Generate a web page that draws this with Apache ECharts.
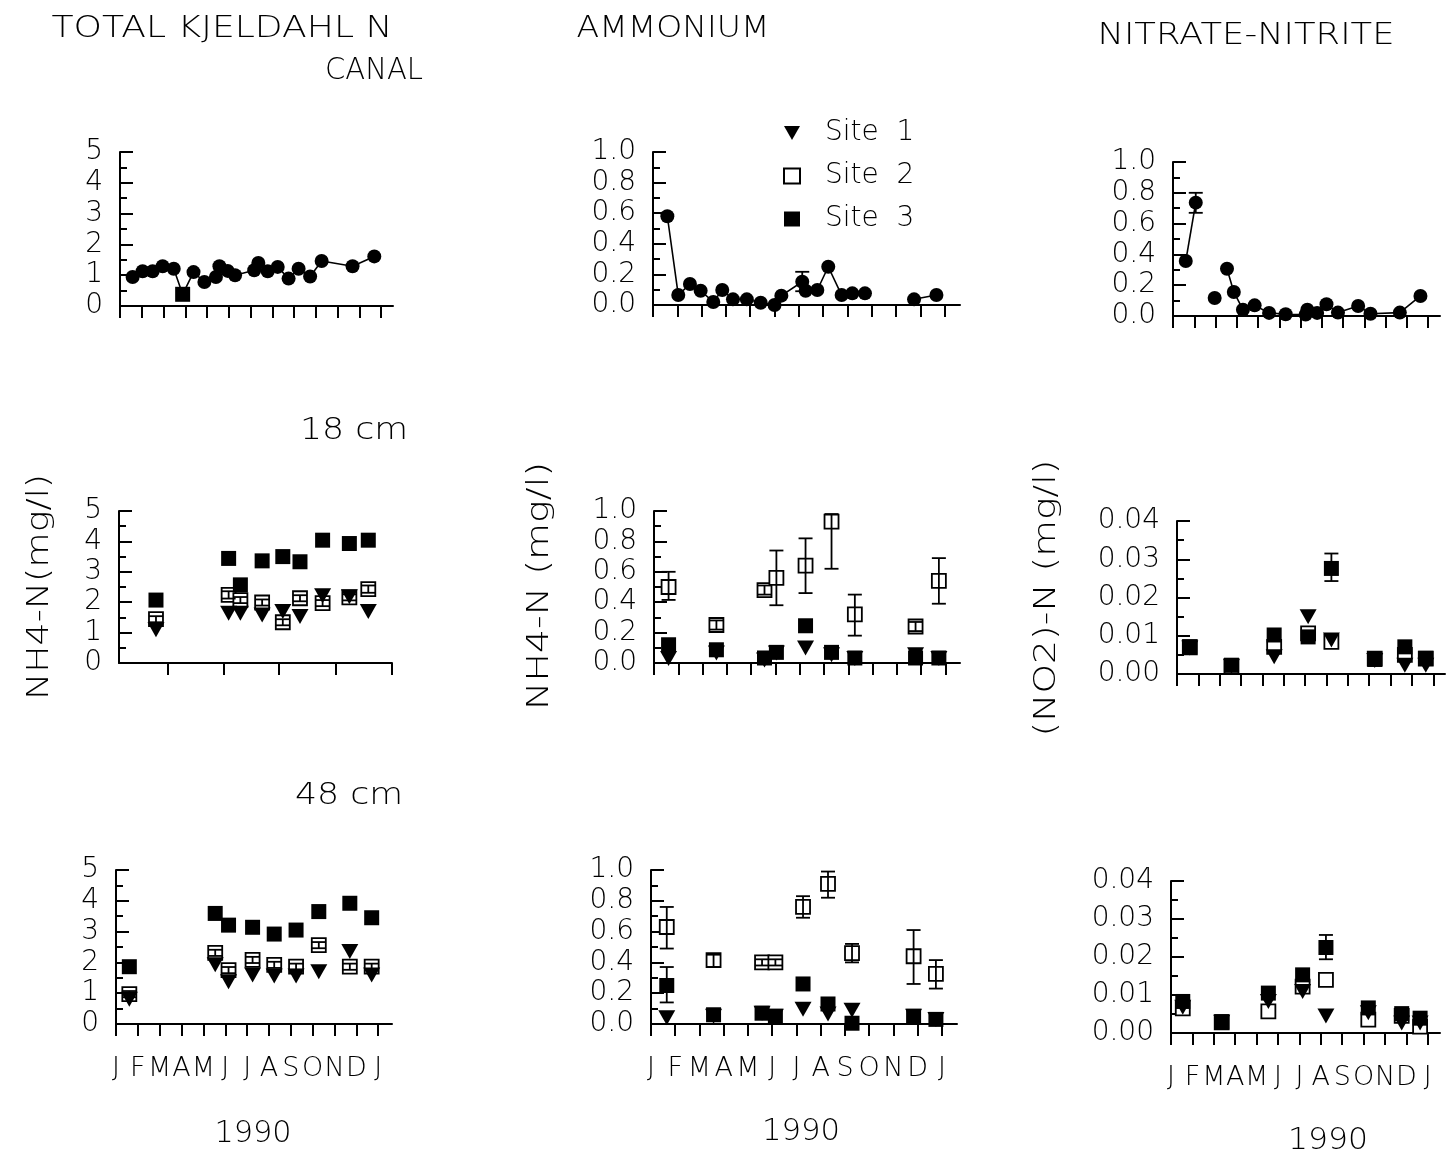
<!DOCTYPE html>
<html>
<head>
<meta charset="utf-8">
<script src="https://cdn.jsdelivr.net/npm/echarts@6/dist/echarts.min.js"></script>
<style>
  html, body { margin: 0; padding: 0; background: #fff; }
  #chart { width: 1454px; height: 1162px; }
</style>
</head>
<body>
<div id="chart"></div>
<script>
// ---- Axis labels and ticks ------------------------------------------------
// x is a month index: 0 = January 1990, 12 = January 1991
const MONTH_LETTERS = ['J', 'F', 'M', 'A', 'M', 'J', 'J', 'A', 'S', 'O', 'N', 'D', 'J'];
const MONTH_TICKS = [0, 1, 2, 3, 4, 5, 6, 7, 8, 9, 10, 11, 12];
const TKN_18CM_TICKS = [2.25, 4.81, 7.35, 9.97, 12.52];

// ---- Canal (surface water) series, mg/l; null = gap in the record ----------
const canalTKN = [
  [0.58, 0.94], [1.04, 1.13], [1.50, 1.13], [1.96, 1.29], [2.47, 1.21], [2.88, 0.38],
  [3.38, 1.10], [3.88, 0.78], [4.41, 0.94], [4.57, 1.29], [4.95, 1.14], [5.29, 1.00],
  [6.17, 1.16], [6.36, 1.40], [6.79, 1.13], [7.25, 1.27], [7.75, 0.89], [8.21, 1.21],
  [8.74, 0.96], [9.27, 1.46], [10.69, 1.29], [11.69, 1.61]
];
const canalTKNSquareIndex = 5;
const canalNH4 = [
  [0.59, 0.58], [1.04, 0.065], [1.52, 0.137], [1.96, 0.093], [2.48, 0.02], [2.85, 0.098],
  [3.29, 0.037], [3.86, 0.037], [4.43, 0.015], [5.00, 0.0], [5.28, 0.061], [6.14, 0.152],
  [6.28, 0.093], [6.76, 0.098], [7.21, 0.25], [7.76, 0.065], [8.20, 0.076], [8.72, 0.076],
  null,
  [10.74, 0.037], [11.66, 0.065]
];
const canalNH4Err = [[6.14, 0.09, 0.217]];
const canalNO3 = [
  [0.60, 0.357], [1.07, 0.736],
  null,
  [1.96, 0.117],
  null,
  [2.54, 0.307], [2.86, 0.156], [3.29, 0.041], [3.84, 0.069], [4.52, 0.02], [5.30, 0.011],
  [6.24, 0.009], [6.32, 0.041], [6.78, 0.02], [7.22, 0.076], [7.76, 0.022], [8.71, 0.065],
  [9.29, 0.015], [10.67, 0.022], [11.64, 0.13]
];
const canalNO3Err = [[1.07, 0.67, 0.80]];

// ---- Pore water, 18 cm ----------------------------------------------------
const dates18TKN = [1.70, 5.04, 5.58, 6.58, 7.53, 8.32, 9.36, 10.59, 11.46];
const site1_18TKN = [1.09, 1.64, 1.64, 1.58, 1.69, 1.53, 2.21, 2.18, 1.69];
const site2_18TKN = [1.44, 2.24, 2.07, 1.99, 1.34, 2.13, 1.97, 2.16, 2.43];
const site3_18TKN = [2.07, 3.44, 2.57, 3.36, 3.50, 3.33, 4.04, 3.93, 4.04];
const site2Err_18TKN = [[1.34, 1.54], [2.12, 2.36], [1.97, 2.17], [1.89, 2.09], [1.24, 1.44], [2.03, 2.23], [1.87, 2.07], [2.06, 2.26], [2.31, 2.55]];

const dates18NH4 = [0.60, 2.57, 4.55, 5.04, 6.24, 7.31, 8.27, 10.77, 11.73];
const site1_18NH4 = [0.03, 0.066, 0.02, 0.066, 0.098, 0.055, 0.03, 0.055, 0.03];
const site2_18NH4 = [0.50, 0.25, 0.48, 0.56, 0.64, 0.93, 0.32, 0.24, 0.54];
const site3_18NH4 = [0.12, 0.087, 0.033, 0.07, 0.245, 0.07, 0.033, 0.033, 0.033];
const site2Err_18NH4 = [[0.415, 0.60], [0.22, 0.28], [0.45, 0.51], [0.38, 0.74], [0.46, 0.82], [0.62, 0.98], [0.18, 0.45], [0.21, 0.27], [0.39, 0.69]];

const dates18NO2 = [0.60, 2.55, 4.55, 6.14, 7.23, 9.26, 10.67, 11.65];
const site1_18NO2 = [0.0068, 0.0020, 0.0045, 0.0150, 0.0089, 0.0035, 0.0023, 0.0023];
const site2_18NO2 = [0.0070, 0.0020, 0.0071, 0.0106, 0.0084, 0.0040, 0.0050, 0.0040];
const site3_18NO2 = [0.0071, 0.0023, 0.0102, 0.0097, 0.0276, 0.0038, 0.0071, 0.0041];
const site3Err_18NO2 = [[7.23, 0.0243, 0.0315]];

// ---- Pore water, 48 cm ----------------------------------------------------
const dates48TKN = [0.61, 4.54, 5.15, 6.25, 7.24, 8.24, 9.28, 10.70, 11.70];
const site1_48TKN = [0.80, 1.92, 1.37, 1.59, 1.56, 1.56, 1.70, 2.35, 1.59];
const site2_48TKN = [0.97, 2.31, 1.75, 2.08, 1.92, 1.86, 2.56, 1.86, 1.86];
const site3_48TKN = [1.86, 3.59, 3.21, 3.14, 2.92, 3.05, 3.65, 3.92, 3.45];
const site2Err_48TKN = [[0.87, 1.07], [2.21, 2.41], [1.65, 1.85], [1.98, 2.18], [1.82, 2.02], [1.76, 1.96], [2.46, 2.66], [1.76, 1.96], [1.76, 1.96]];

const dates48NH4 = [0.65, 2.58, 4.58, 5.13, 6.27, 7.30, 8.29, 10.83, 11.75];
const site1_48NH4 = [0.04, 0.05, 0.07, 0.05, 0.095, 0.065, 0.09, 0.05, 0.03];
const site2_48NH4 = [0.63, 0.415, 0.40, 0.40, 0.76, 0.91, 0.46, 0.44, 0.325];
const site3_48NH4 = [0.25, 0.06, 0.07, 0.05, 0.26, 0.13, 0.005, 0.05, 0.03];
const site2Err_48NH4 = [[0.49, 0.76], [0.37, 0.45], [0.38, 0.42], [0.38, 0.42], [0.69, 0.83], [0.82, 0.99], [0.40, 0.52], [0.26, 0.61], [0.23, 0.415]];
const site3Err_48NH4 = [[0.65, 0.14, 0.37]];

const dates48NO2 = [0.55, 2.37, 4.55, 6.15, 7.24, 9.22, 10.78, 11.64];
const site1_48NO2 = [0.0068, 0.0028, 0.0083, 0.0109, 0.0045, 0.0053, 0.0026, 0.0026];
const site2_48NO2 = [0.0065, 0.0028, 0.0057, 0.0122, 0.0140, 0.0035, 0.0045, 0.0017];
const site3_48NO2 = [0.0083, 0.0030, 0.0105, 0.0153, 0.0225, 0.0066, 0.0051, 0.0039];
const site3Err_48NO2 = [[7.24, 0.0194, 0.0258]];

// ---- Styling / layout -------------------------------------------------------
const FONT = 'DejaVu Sans';
const WEIGHT = 200;
const TRIANGLE = 'path://M0,0L16,0L8,14Z';

// panel frames: left/top/width/height in px, x extent in months, y scale
const PANELS = [
  { left: 120,  top: 152, width: 273, height: 154, xMax: 12.55, yMax: 5,    yStep: 1,    dec: 0 },
  { left: 653,  top: 152, width: 307, height: 153, xMax: 12.63, yMax: 1,    yStep: 0.2,  dec: 1 },
  { left: 1173, top: 162, width: 267, height: 154, xMax: 12.56, yMax: 1,    yStep: 0.2,  dec: 1 },
  { left: 119,  top: 511, width: 273, height: 152, xMax: 12.55, yMax: 5,    yStep: 1,    dec: 0, ticks: TKN_18CM_TICKS },
  { left: 654,  top: 511, width: 306, height: 152, xMax: 12.60, yMax: 1,    yStep: 0.2,  dec: 1 },
  { left: 1177, top: 521, width: 268, height: 153, xMax: 12.55, yMax: 0.04, yStep: 0.01, dec: 2 },
  { left: 116,  top: 870, width: 276, height: 154, xMax: 12.63, yMax: 5,    yStep: 1,    dec: 0, months: true },
  { left: 651,  top: 870, width: 306, height: 154, xMax: 12.62, yMax: 1,    yStep: 0.2,  dec: 1, months: true },
  { left: 1171, top: 881, width: 269, height: 152, xMax: 12.57, yMax: 0.04, yStep: 0.01, dec: 2, months: true }
];

const grids = PANELS.map(p => ({
  left: p.left, top: p.top, width: p.width, height: p.height,
  containLabel: false, outerBoundsMode: 'none'
}));

const xAxes = PANELS.map((p, i) => ({
  type: 'value', gridIndex: i, min: 0, max: p.xMax,
  axisLine: { show: true, onZero: false, lineStyle: { color: '#000', width: 2 } },
  axisTick: {
    show: true, inside: false, length: 12,
    customValues: p.ticks || MONTH_TICKS,
    lineStyle: { color: '#000', width: 2 }
  },
  axisLabel: {
    show: !!p.months, customValues: MONTH_TICKS, margin: 31,
    formatter: v => MONTH_LETTERS[Math.round(v)] || '',
    fontFamily: FONT, fontWeight: WEIGHT, fontSize: 27, color: '#000'
  },
  splitLine: { show: false }
}));

const yAxes = PANELS.map((p, i) => ({
  type: 'value', gridIndex: i, min: 0, max: p.yMax, interval: p.yStep,
  axisLine: { show: true, onZero: false, lineStyle: { color: '#000', width: 2 } },
  axisTick: { show: true, inside: true, length: 13, lineStyle: { color: '#000', width: 2 } },
  minorTick: { show: true, splitNumber: 2, length: 7, lineStyle: { color: '#000', width: 2 } },
  axisLabel: {
    margin: 17, fontFamily: FONT, fontWeight: WEIGHT, fontSize: 28, color: '#000',
    formatter: v => v.toFixed(p.dec)
  },
  splitLine: { show: false },
  minorSplitLine: { show: false }
}));

// ---- Series builders --------------------------------------------------------
function canalSeries(g, pts, name, squareIndex) {
  const runs = [];
  let cur = [];
  pts.forEach((pt, i) => {
    if (pt === null) { if (cur.length) runs.push(cur); cur = []; return; }
    cur.push(i === squareIndex ? { value: pt, symbol: 'rect', symbolSize: 15 } : pt);
  });
  if (cur.length) runs.push(cur);
  return runs.map(r => ({
    name, type: 'line', xAxisIndex: g, yAxisIndex: g, data: r,
    symbol: 'circle', symbolSize: 14, showSymbol: true,
    itemStyle: { color: '#000', opacity: 1 },
    lineStyle: { color: '#000', width: 1.6 },
    z: 3
  }));
}

function errorSeries(g, rows) {
  return {
    type: 'custom', xAxisIndex: g, yAxisIndex: g, z: 6, silent: true,
    encode: { x: 0, y: [1, 2] },
    data: rows,
    renderItem(params, api) {
      const x = api.value(0);
      const lo = api.coord([x, api.value(1)]);
      const hi = api.coord([x, api.value(2)]);
      const w = 7;
      const st = { stroke: '#000', lineWidth: 1.8 };
      return {
        type: 'group',
        children: [
          { type: 'line', shape: { x1: lo[0], y1: lo[1], x2: hi[0], y2: hi[1] }, style: st },
          { type: 'line', shape: { x1: lo[0] - w, y1: lo[1], x2: lo[0] + w, y2: lo[1] }, style: st },
          { type: 'line', shape: { x1: hi[0] - w, y1: hi[1], x2: hi[0] + w, y2: hi[1] }, style: st }
        ]
      };
    }
  };
}

const pair = (dates, vals) => dates.map((d, i) => [d, vals[i]]);
const withX = (dates, lohi) => dates.map((d, i) => [d, lohi[i][0], lohi[i][1]]);

function siteSeries(g, dates, s1, s2, s3) {
  return [
    {
      name: 'Site 2', type: 'scatter', xAxisIndex: g, yAxisIndex: g, z: 2,
      symbol: 'rect', symbolSize: 14,
      itemStyle: { color: '#fff', borderColor: '#000', borderWidth: 1.8, opacity: 1 },
      data: pair(dates, s2)
    },
    {
      name: 'Site 1', type: 'scatter', xAxisIndex: g, yAxisIndex: g, z: 3,
      symbol: TRIANGLE, symbolSize: [17, 15],
      itemStyle: { color: '#000', opacity: 1 },
      data: pair(dates, s1)
    },
    {
      name: 'Site 3', type: 'scatter', xAxisIndex: g, yAxisIndex: g, z: 4,
      symbol: 'rect', symbolSize: 15,
      itemStyle: { color: '#000', opacity: 1 },
      data: pair(dates, s3)
    }
  ];
}

const series = [].concat(
  canalSeries(0, canalTKN, 'Canal TKN', canalTKNSquareIndex),
  canalSeries(1, canalNH4, 'Canal NH4-N', -1),
  [errorSeries(1, canalNH4Err)],
  canalSeries(2, canalNO3, 'Canal NO3+NO2-N', -1),
  [errorSeries(2, canalNO3Err)],

  siteSeries(3, dates18TKN, site1_18TKN, site2_18TKN, site3_18TKN),
  [errorSeries(3, withX(dates18TKN, site2Err_18TKN))],
  siteSeries(4, dates18NH4, site1_18NH4, site2_18NH4, site3_18NH4),
  [errorSeries(4, withX(dates18NH4, site2Err_18NH4))],
  siteSeries(5, dates18NO2, site1_18NO2, site2_18NO2, site3_18NO2),
  [errorSeries(5, site3Err_18NO2)],

  siteSeries(6, dates48TKN, site1_48TKN, site2_48TKN, site3_48TKN),
  [errorSeries(6, withX(dates48TKN, site2Err_48TKN))],
  siteSeries(7, dates48NH4, site1_48NH4, site2_48NH4, site3_48NH4),
  [errorSeries(7, withX(dates48NH4, site2Err_48NH4)), errorSeries(7, site3Err_48NH4)],
  siteSeries(8, dates48NO2, site1_48NO2, site2_48NO2, site3_48NO2),
  [errorSeries(8, site3Err_48NO2)]
);

// ---- Free text: headings, depth captions, year, y-axis names ---------------
const measureCtx = document.createElement('canvas').getContext('2d');
function fontString(size) {
  return WEIGHT + ' ' + size + 'px "' + FONT + '"';
}
function textWidth(t, size) {
  measureCtx.font = fontString(size);
  return measureCtx.measureText(t).width;
}
const TEXTS = [
  { t: 'TOTAL KJELDAHL N', x: 222, y: 29,  w: 341, s: 30, r: 0 },
  { t: 'CANAL',            x: 374, y: 71,  w: 98,  s: 30, r: 0 },
  { t: 'AMMONIUM',         x: 673, y: 29,  w: 193, s: 30, r: 0 },
  { t: 'NITRATE-NITRITE',  x: 1246, y: 36, w: 297, s: 30, r: 0 },
  { t: '18 cm',            x: 354, y: 431, w: 108, s: 30, r: 0 },
  { t: '48 cm',            x: 349, y: 796, w: 108, s: 30, r: 0 },
  { t: '1990',             x: 253, y: 1134, w: 77, s: 30, r: 0 },
  { t: '1990',             x: 801, y: 1132, w: 78, s: 30, r: 0 },
  { t: '1990',             x: 1328, y: 1141, w: 80, s: 30, r: 0 },
  { t: 'NH4-N(mg/l)',      x: 40,  y: 587, w: 226, s: 30, r: Math.PI / 2 },
  { t: 'NH4-N (mg/l)',     x: 540, y: 586, w: 248, s: 30, r: Math.PI / 2 },
  { t: '(NO2)-N (mg/l)',   x: 1047, y: 598, w: 277, s: 30, r: Math.PI / 2 }
];
const graphic = TEXTS.map(o => ({
  type: 'text', x: o.x, y: o.y, rotation: o.r,
  scaleX: o.w / textWidth(o.t, o.s), scaleY: 1,
  silent: true,
  style: {
    text: o.t, fill: '#000',
    font: fontString(o.s),
    fontFamily: FONT, fontSize: o.s, fontWeight: WEIGHT,
    align: 'center', verticalAlign: 'middle',
    textAlign: 'center', textVerticalAlign: 'middle'
  }
}));

const chart = echarts.init(document.getElementById('chart'), null, { renderer: 'canvas' });
chart.setOption({
  backgroundColor: '#fff',
  animation: false,
  textStyle: { fontFamily: FONT, fontWeight: WEIGHT, color: '#000' },
  grid: grids,
  xAxis: xAxes,
  yAxis: yAxes,
  legend: {
    left: 778, top: 113, orient: 'vertical',
    itemWidth: 16, itemHeight: 15, itemGap: 13,
    selectedMode: false,
    data: [
      { name: 'Site 1', icon: TRIANGLE },
      { name: 'Site 2', icon: 'rect' },
      { name: 'Site 3', icon: 'rect' }
    ],
    formatter: n => n.replace(' ', '  '),
    textStyle: { fontFamily: FONT, fontWeight: WEIGHT, fontSize: 28, color: '#000', lineHeight: 30, padding: [0, 0, 0, 20] }
  },
  graphic: graphic,
  series: series
});
</script>
</body>
</html>
